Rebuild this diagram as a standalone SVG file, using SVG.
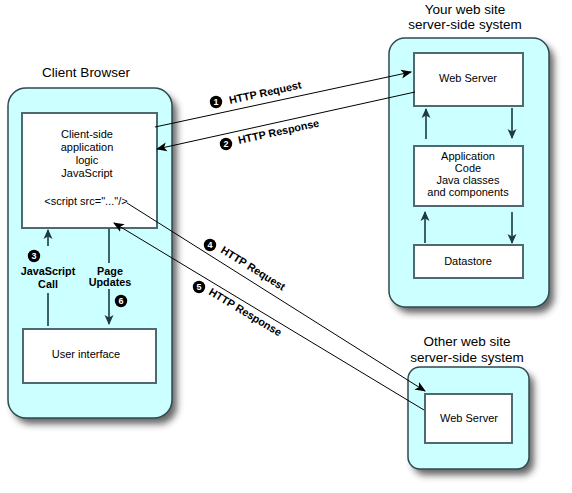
<svg xmlns="http://www.w3.org/2000/svg" width="572" height="493" viewBox="0 0 572 493">
<defs>
<style>
.cont{fill:#ccffff;stroke:#2f4a50;stroke-width:1.5}
.box{fill:#ffffff;stroke:#4e6a70;stroke-width:2}
.t{font-family:"Liberation Sans",Arial,sans-serif;font-size:11px;fill:#000;text-anchor:middle}
.title{font-family:"Liberation Sans",Arial,sans-serif;font-size:13.5px;fill:#000;text-anchor:middle}
.lbl{font-family:"Liberation Sans",Arial,sans-serif;font-size:10.8px;font-weight:bold;fill:#000}
.lblc{font-family:"Liberation Sans",Arial,sans-serif;font-size:10.8px;font-weight:bold;fill:#000;text-anchor:middle}
.num{font-family:"Liberation Sans",Arial,sans-serif;font-size:9px;font-weight:bold;fill:#fff;text-anchor:middle}
.http{stroke:#000;stroke-width:1;fill:none}
.inner{stroke:#3c6468;stroke-width:2;fill:none}
</style>
<filter id="sh" x="-20%" y="-20%" width="150%" height="150%">
<feGaussianBlur stdDeviation="3.5"/>
</filter>
<marker id="ah" viewBox="0 0 10 10" refX="9" refY="5" markerWidth="11" markerHeight="11" markerUnits="userSpaceOnUse" orient="auto">
<path d="M0,1 L10,5 L0,9 L2.5,5 Z" fill="#000"/>
</marker>
<marker id="at" viewBox="0 0 10 10" refX="9" refY="5" markerWidth="10" markerHeight="10" markerUnits="userSpaceOnUse" orient="auto">
<path d="M0,0.5 L10,5 L0,9.5 L2.5,5 Z" fill="#1f3a40"/>
</marker>
</defs>
<rect width="572" height="493" fill="#ffffff"/>

<g id="client-browser">
<rect x="13" y="94" width="164" height="330" rx="18" fill="#333" opacity="0.75" filter="url(#sh)"/>
<rect class="cont" x="8" y="88" width="164" height="330" rx="18"/>
<text class="title" x="86" y="77">Client Browser</text>
</g>
<g id="your-site">
<rect x="394" y="44" width="160" height="269" rx="16" fill="#333" opacity="0.75" filter="url(#sh)"/>
<rect class="cont" x="389" y="38" width="160" height="269" rx="16"/>
<text class="title" x="465" y="13.5">Your web site</text>
<text class="title" x="465" y="29">server-side system</text>
</g>
<g id="other-site">
<rect x="413" y="373" width="121" height="102" rx="12" fill="#333" opacity="0.75" filter="url(#sh)"/>
<rect class="cont" x="408" y="367" width="121" height="102" rx="12"/>
<text class="title" x="467" y="346">Other web site</text>
<text class="title" x="467" y="361.5">server-side system</text>
</g>

<g id="client-logic">
<rect class="box" x="22" y="113" width="135" height="115"/>
<text class="t" x="87" y="138">Client-side</text>
<text class="t" x="87" y="151">application</text>
<text class="t" x="87" y="164">logic</text>
<text class="t" x="87" y="177">JavaScript</text>
<text class="t" x="86" y="205">&lt;script src="..."/&gt;</text>
</g>
<g id="user-interface">
<rect class="box" x="23" y="329" width="133" height="54"/>
<text class="t" x="86" y="358">User interface</text>
</g>
<g id="web-server">
<rect class="box" x="414" y="53" width="109" height="53"/>
<text class="t" x="468" y="82">Web Server</text>
</g>
<g id="app-code">
<rect class="box" x="414" y="146" width="109" height="60"/>
<text class="t" x="468" y="160">Application</text>
<text class="t" x="468" y="172">Code</text>
<text class="t" x="468" y="184">Java classes</text>
<text class="t" x="468" y="196">and components</text>
</g>
<g id="datastore">
<rect class="box" x="414" y="245" width="109" height="33"/>
<text class="t" x="468" y="265">Datastore</text>
</g>
<g id="other-web-server">
<rect class="box" x="425" y="394" width="87" height="49"/>
<text class="t" x="469" y="422">Web Server</text>
</g>

<g id="connectors">
<line class="http" x1="155" y1="127" x2="411" y2="72" marker-end="url(#ah)"/>
<line class="http" x1="415" y1="92" x2="157" y2="149" marker-end="url(#ah)"/>
<line class="http" x1="127" y1="203" x2="425" y2="391" marker-end="url(#ah)"/>
<line class="http" x1="424" y1="410" x2="114" y2="223" marker-end="url(#ah)"/>

<line class="inner" x1="48" y1="326" x2="48" y2="293"/>
<line class="inner" x1="48" y1="246" x2="48" y2="230" marker-end="url(#at)"/>
<line class="inner" x1="109" y1="228" x2="109" y2="263"/>
<line class="inner" x1="109" y1="289" x2="109" y2="324" marker-end="url(#at)"/>

<line class="inner" x1="426" y1="139" x2="426" y2="109" marker-end="url(#at)"/>
<line class="inner" x1="512" y1="108" x2="512" y2="138" marker-end="url(#at)"/>
<line class="inner" x1="425" y1="243" x2="425" y2="212" marker-end="url(#at)"/>
<line class="inner" x1="512" y1="212" x2="512" y2="243" marker-end="url(#at)"/>

<g id="label-1">
<circle cx="216" cy="102" r="6.2"/>
<text class="num" x="216" y="105.2">1</text>
<text class="lbl" transform="translate(230,104) rotate(-12.3)">HTTP Request</text>
</g>
<g id="label-2">
<circle cx="226" cy="144" r="6.2"/>
<text class="num" x="226" y="147.2">2</text>
<text class="lbl" transform="translate(239,144) rotate(-12.3)">HTTP Response</text>
</g>
<g id="label-3">
<circle cx="34" cy="256" r="6.2"/>
<text class="num" x="34" y="259.2">3</text>
<text class="lblc" x="48" y="275">JavaScript</text>
<text class="lblc" x="48" y="288">Call</text>
</g>
<g id="label-4">
<circle cx="210" cy="245" r="6.2"/>
<text class="num" x="210" y="248.2">4</text>
<text class="lbl" transform="translate(220,252) rotate(32)">HTTP Request</text>
</g>
<g id="label-5">
<circle cx="199" cy="287" r="6.2"/>
<text class="num" x="199" y="290.2">5</text>
<text class="lbl" transform="translate(208,294) rotate(31)">HTTP Response</text>
</g>
<g id="label-6">
<text class="lblc" x="110" y="275">Page</text>
<text class="lblc" x="110" y="286">Updates</text>
<circle cx="121" cy="301" r="6.2"/>
<text class="num" x="121" y="304.2">6</text>
</g>
</g>
</svg>
